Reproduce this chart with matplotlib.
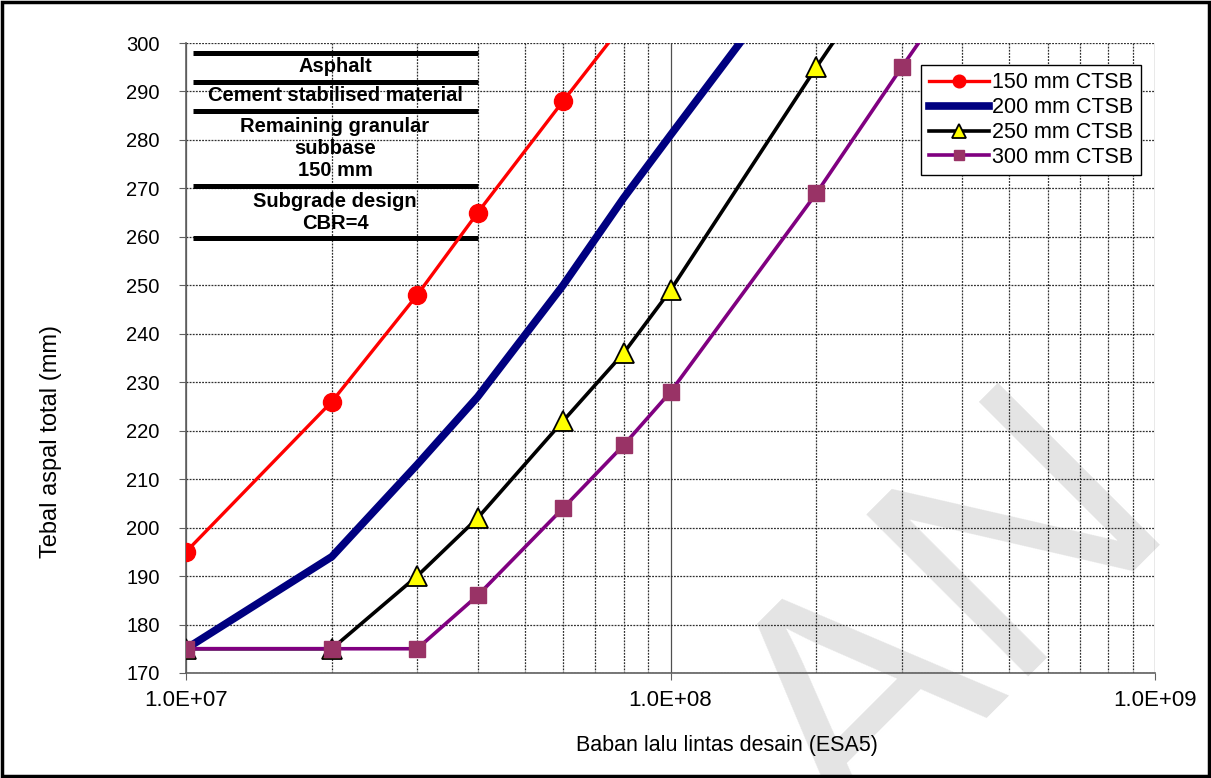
import matplotlib
matplotlib.use("Agg")
import matplotlib.pyplot as plt
import matplotlib.patches as patches
import matplotlib.ticker as mticker
import numpy as np

plt.rcParams['font.family'] = ['Liberation Sans', 'DejaVu Sans']

# data
esa_150 = [1e7, 2e7, 3e7, 4e7, 6e7, 8e7]
tebal_150 = [195, 226, 248, 265, 288, 304]
esa_200 = [1e7, 2e7, 3e7, 4e7, 6e7, 8e7, 1e8, 2e8]
tebal_200 = [175, 194, 213, 227, 250, 268, 281, 321]
esa_250 = [1e7, 2e7, 3e7, 4e7, 6e7, 8e7, 1e8, 2e8, 3e8]
tebal_250 = [175, 175, 190, 202, 222, 236, 249, 295, 321]
esa_300 = [1e7, 2e7, 3e7, 4e7, 6e7, 8e7, 1e8, 2e8, 3e8, 4e8]
tebal_300 = [175, 175, 175, 186, 204, 217, 228, 269, 295, 313]
labels = ['150 mm CTSB', '200 mm CTSB', '250 mm CTSB', '300 mm CTSB']

# pavement layer sketch (top left)
layer_x = [1.035e7, 4e7]
layer_y = [298, 292, 286, 270.5, 259.8]
layer_text = ['Asphalt', 'Cement stabilised material',
              'Remaining granular\nsubbase\n150 mm', 'Subgrade design\nCBR=4']
layer_text_y = [295.2, 289.1, 278.3, 265.1]

fig = plt.figure(figsize=(12.11, 7.78), dpi=100)
ax = fig.add_axes([0.1536, 0.135, 0.8002, 0.8097])
ax.set_facecolor('none')

ax.set_xscale('log')
ax.set_xlim(1e7, 1e9)
ax.set_ylim(170, 300)

# grid
ax.set_yticks(np.arange(170, 301, 10))
ax.grid(True, axis='y', which='major', ls=(0, (1.5, 1)), lw=0.9, color='#303030')
ax.xaxis.set_minor_locator(mticker.LogLocator(base=10, subs=np.arange(2, 10)))
ax.xaxis.set_minor_formatter(mticker.NullFormatter())
ax.grid(True, axis='x', which='minor', ls=(0, (1.5, 1)), lw=0.9, color='#303030')
ax.grid(True, axis='x', which='major', ls='-', lw=0.9, color='#505050')
ax.set_axisbelow(True)

ax.xaxis.set_major_formatter(mticker.FuncFormatter(
    lambda v, p: '%.1fE+%02d' % (v / 10 ** int(round(np.log10(v))), int(round(np.log10(v))))))

ax.tick_params(axis='y', which='major', labelsize=14.5, length=5, direction='out',
               color='#606060', pad=14)
ax.tick_params(axis='x', which='major', labelsize=16, length=5, direction='out',
               color='#606060', pad=7)
ax.tick_params(axis='x', which='minor', length=0)
for s in ['top', 'right']:
    ax.spines[s].set_visible(False)
for s in ['left', 'bottom']:
    ax.spines[s].set_color('#606060')
    ax.spines[s].set_linewidth(1.2)

# layer sketch
for y in layer_y:
    ax.plot(layer_x, [y, y], color='black', lw=3.6, solid_capstyle='butt', zorder=3)
for t, y in zip(layer_text, layer_text_y):
    ax.text(2.03e7, y, t, ha='center', va='center', fontsize=14.5, fontweight='bold',
            linespacing=1.2, zorder=4)

# series
ax.plot(esa_150, tebal_150, color='#ff0000', lw=2.4, marker='o', ms=13,
        mfc='#ff0000', mec='#ff0000', label=labels[0], zorder=5)
ax.plot(esa_200, tebal_200, color='#000080', lw=5.5, label=labels[1], zorder=5)
ax.plot(esa_250, tebal_250, color='black', lw=2.6, marker='^', ms=14,
        mfc='#ffff00', mec='black', mew=1.3, label=labels[2], zorder=6)
ax.plot(esa_300, tebal_300, color='#800080', lw=2.6, marker='s', ms=11,
        mfc='#993366', mec='#993366', label=labels[3], zorder=7)

leg = ax.legend(loc='upper right', bbox_to_anchor=(0.9855, 0.9655), borderaxespad=0,
                fontsize=15.5, frameon=True, fancybox=False, edgecolor='black',
                framealpha=1, handlelength=2.8, handletextpad=0.15, labelspacing=0.18,
                borderpad=0.35, markerscale=0.7)
leg.get_frame().set_linewidth(1.0)

ax.set_xlabel('Baban lalu lintas desain (ESA5)', fontsize=15.5)
ax.xaxis.set_label_coords(0.558, -0.0984)
ax.set_ylabel('Tebal aspal total (mm)', fontsize=17)
ax.yaxis.set_label_coords(-0.128, 0.368)

# watermark
fig.text(0.7886, 0.193, 'AN', fontsize=240, color='#e4e4e4', rotation=45,
         rotation_mode='anchor', ha='center', va='center', zorder=-1)

# outer border
fig.patches.append(patches.Rectangle((0.002, 0.003), 0.996, 0.994, transform=fig.transFigure,
                                     fill=False, edgecolor='black', lw=2.5))

fig.savefig('out.png', dpi=100)
